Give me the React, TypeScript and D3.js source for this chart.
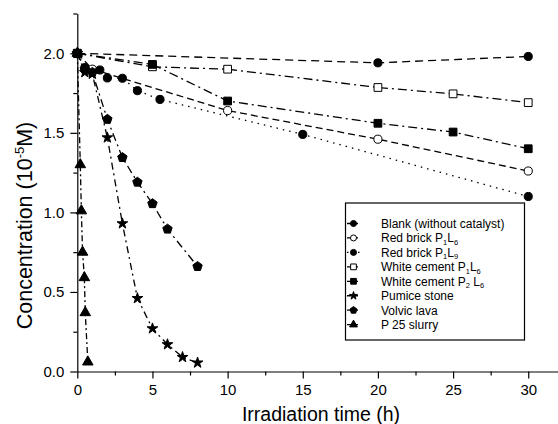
import React, { useEffect, useRef } from "react";
import {
  axisBottom,
  axisLeft,
  scaleLinear,
  line,
  symbol,
  symbolCircle,
  symbolSquare,
  symbolStar,
  symbolTriangle,
  select,
  format
} from "d3";

// values (time in h, concentration in 1e-5 M)
const blankTime = [0, 20, 30];
const blankConc = [2.0, 1.94, 1.98];
const rb16Time = [0, 1, 10, 20, 30];
const rb16Conc = [2.0, 1.9, 1.64, 1.46, 1.26];
const rb19Time = [0, 0.5, 1.5, 2, 3, 4, 5.5, 15, 30];
const rb19Conc = [2.0, 1.91, 1.895, 1.845, 1.843, 1.765, 1.71, 1.49, 1.1];
const wc16Time = [0, 5, 10, 20, 25, 30];
const wc16Conc = [2.0, 1.915, 1.9, 1.785, 1.745, 1.69];
const wc26Time = [0, 5, 10, 20, 25, 30];
const wc26Conc = [2.0, 1.93, 1.7, 1.56, 1.505, 1.4];
const pumiceTime = [0, 0.5, 1, 2, 3, 4, 5, 6, 7, 8];
const pumiceConc = [2.0, 1.88, 1.87, 1.47, 0.93, 0.46, 0.27, 0.17, 0.09, 0.055];
const lavaTime = [0, 0.5, 1, 2, 3, 4, 5, 6, 8];
const lavaConc = [2.0, 1.9, 1.88, 1.585, 1.345, 1.19, 1.055, 0.895, 0.66];
const p25Time = [0, 0.2, 0.27, 0.35, 0.47, 0.53, 0.7];
const p25Conc = [2.0, 1.3, 1.01, 0.75, 0.59, 0.37, 0.06];

// "_x" marks a one-character subscript
const labels = [
  "Blank (without catalyst)",
  "Red brick P_1L_6",
  "Red brick P_1L_9",
  "White cement P_1L_6",
  "White cement P_2 L_6",
  "Pumice stone",
  "Volvic lava",
  "P 25 slurry"
];

const xMajor = [0, 5, 10, 15, 20, 25, 30];
const xMinor = [2.5, 7.5, 12.5, 17.5, 22.5, 27.5];
const yMajor = [0, 0.5, 1.0, 1.5, 2.0];
const yMinor = [0.25, 0.75, 1.25, 1.75, 2.25];

const pentagon = {
  draw(ctx: any, size: number) {
    const r = Math.sqrt(size / 2.378);
    for (let i = 0; i < 5; i++) {
      const a = -Math.PI / 2 + (i * 2 * Math.PI) / 5;
      const px = r * Math.cos(a),
        py = r * Math.sin(a);
      if (i) ctx.lineTo(px, py);
      else ctx.moveTo(px, py);
    }
    ctx.closePath();
  }
};

const series = [
  { t: blankTime, c: blankConc, shape: symbolCircle, size: 52, filled: true, dash: "8,5" },
  { t: rb16Time, c: rb16Conc, shape: symbolCircle, size: 52, filled: false, dash: "7,4" },
  { t: rb19Time, c: rb19Conc, shape: symbolCircle, size: 52, filled: true, dash: "1.5,5" },
  { t: wc16Time, c: wc16Conc, shape: symbolSquare, size: 60, filled: false, dash: "9,4,2,4" },
  { t: wc26Time, c: wc26Conc, shape: symbolSquare, size: 60, filled: true, dash: "9,4,2,4" },
  { t: pumiceTime, c: pumiceConc, shape: symbolStar, size: 36, filled: true, dash: "7,4,2,4" },
  { t: lavaTime, c: lavaConc, shape: pentagon, size: 58, filled: true, dash: "8,4,2,4" },
  { t: p25Time, c: p25Conc, shape: symbolTriangle, size: 48, filled: true, dash: "6,3,2,3" }
];

const font = "'Liberation Sans', Arial, sans-serif";

function Label({ text }: { text: string }) {
  const parts = text.split(/(_.)/).filter(p => p !== "");
  return (
    <>
      {parts.map((p, i) =>
        p[0] === "_" ? (
          <tspan key={i} fontSize={7.5} dy={2.5}>
            {p[1]}
          </tspan>
        ) : (
          <tspan key={i} dy={i > 0 && parts[i - 1][0] === "_" ? -2.5 : 0}>
            {p}
          </tspan>
        )
      )}
    </>
  );
}

export default function App() {
  const width = 558,
    height = 424;

  const x = scaleLinear().domain([0, 32]).range([77.3, 558.3]);
  const y = scaleLinear().domain([0, 2.25]).range([371.5, 13.5]);

  const xAxisRef = useRef(null);
  const xMinorRef = useRef(null);
  const yAxisRef = useRef(null);
  const yMinorRef = useRef(null);

  useEffect(() => {
    select(xAxisRef.current).call(
      axisBottom(x).tickValues(xMajor).tickSize(7).tickSizeOuter(0).tickPadding(6).tickFormat(format("d"))
    );
    select(xMinorRef.current)
      .call(axisBottom(x).tickValues(xMinor).tickSize(4).tickFormat(() => ""))
      .select(".domain")
      .remove();
    select(yAxisRef.current).call(
      axisLeft(y).tickValues(yMajor).tickSize(7).tickSizeOuter(0).tickPadding(6).tickFormat(format(".1f"))
    );
    select(yMinorRef.current)
      .call(axisLeft(y).tickValues(yMinor).tickSize(4).tickFormat(() => ""))
      .select(".domain")
      .remove();

    [xAxisRef, yAxisRef, xMinorRef, yMinorRef].forEach(r => {
      const g = select(r.current);
      g.selectAll("text").attr("font-size", 15).attr("font-family", font).attr("fill", "#000");
      g.selectAll("line, path").attr("stroke", "#000").attr("stroke-width", 1.2);
      g.attr("font-family", null).attr("font-size", null);
    });
  }, []);

  const legendY = (i: number) => 223.5 + i * 14.45;

  return (
    <svg
      width={width}
      height={height}
      style={{ position: "absolute", left: 0, top: 0, background: "#fff" }}
    >
      {series.map((s, i) => {
        const pts = s.t.map((t, j) => [x(t), y(s.c[j])] as [number, number]);
        const d = line()(pts);
        const sym = symbol().type(s.shape as any).size(s.size)();
        return (
          <g key={i}>
            <path d={d || ""} fill="none" stroke="#000" strokeWidth={1.3} strokeDasharray={s.dash} />
            {pts.map((p, j) => (
              <path
                key={j}
                d={sym || ""}
                transform={`translate(${p[0]},${p[1]})`}
                fill={s.filled ? "#000" : "#fff"}
                stroke="#000"
                strokeWidth={1}
              />
            ))}
          </g>
        );
      })}

      <g ref={xMinorRef} transform={`translate(0,${y(0)})`} />
      <g ref={yMinorRef} transform={`translate(${x(0)},0)`} />
      <g ref={xAxisRef} transform={`translate(0,${y(0)})`} />
      <g ref={yAxisRef} transform={`translate(${x(0)},0)`} />

      <g>
        <rect x={345.5} y={203} width={179} height={137} fill="#fff" stroke="#000" strokeWidth={1.2} />
        {series.map((s, i) => {
          const ly = legendY(i);
          const sym = symbol().type(s.shape as any).size(s.size * 0.55)();
          return (
            <g key={i}>
              <line x1={347} x2={361} y1={ly} y2={ly} stroke="#000" strokeWidth={1.3} strokeDasharray={i === 2 ? "1.5,4" : "4,3"} />
              <path
                d={sym || ""}
                transform={`translate(${353.5},${ly})`}
                fill={s.filled ? "#000" : "#fff"}
                stroke="#000"
                strokeWidth={1}
              />
              <text x={381} y={ly + 4.3} fontSize={12} fontFamily={font}>
                <Label text={labels[i]} />
              </text>
            </g>
          );
        })}
      </g>

      <text x={321} y={421} textAnchor="middle" fontSize={19.5} fontFamily={font}>
        Irradiation time (h)
      </text>
      <text
        transform={`translate(31.5,${225.5}) rotate(-90)`}
        textAnchor="middle"
        fontSize={21.5}
        fontFamily={font}
      >
        Concentration (10
        <tspan fontSize={13} baselineShift="8">
          -5
        </tspan>
        M)
      </text>
    </svg>
  );
}
